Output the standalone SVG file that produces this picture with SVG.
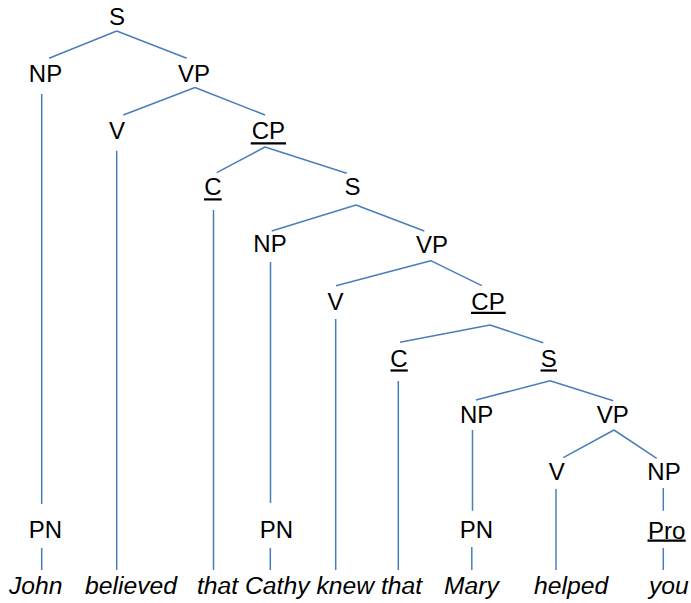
<svg xmlns="http://www.w3.org/2000/svg" width="691" height="603" viewBox="0 0 691 603">
<style>
.e{stroke:#4a7ebb;stroke-width:1.5;fill:none;stroke-linecap:butt}
.l{font-family:"Liberation Sans",Arial,sans-serif;font-size:24px;fill:#000;text-anchor:middle}
.w{font-family:"Liberation Sans",Arial,sans-serif;font-size:24.7px;font-style:italic;fill:#000}
.u{stroke:#000;stroke-width:2.2}
</style>
<rect width="691" height="603" fill="#fff"/>
<g id="connectors" class="e">
<path d="M116.7 31L49 58.3M116.7 31L186.7 58.3"/>
<path d="M41.7 94V504M41.7 548V570"/>
<path d="M195 87.5L123.3 115M195 87.5L265 115"/>
<path d="M116.7 150.7V570"/>
<path d="M265 147L216.7 172.7M265 147L346.7 173.3"/>
<path d="M213.5 210V570"/>
<path d="M356 205L271.7 231M356 205L424.3 231"/>
<path d="M270.5 262V503M270.3 548V570"/>
<path d="M430.7 260.7L336 285.7M430.7 260.7L481.7 285.7"/>
<path d="M335.7 319V570"/>
<path d="M490 325L400 342.3M490 325L543.3 342.7"/>
<path d="M398.3 381V570"/>
<path d="M550 380.7L476 400M550 380.7L613.3 400.7"/>
<path d="M472.5 430V510.7M471.8 547V570"/>
<path d="M614 430L563.3 457.7M614 430L656.7 458.3"/>
<path d="M556 489V570"/>
<path d="M663.3 488V510.7M663.3 548V570"/>
</g>
<g id="S1"><text class="l" x="117" y="25">S</text></g>
<g id="NP1"><text class="l" x="45.5" y="81.5">NP</text></g>
<g id="VP1"><text class="l" x="194" y="81.5">VP</text></g>
<g id="V1"><text class="l" x="117" y="139">V</text></g>
<g id="CP1"><text class="l" x="268.3" y="138.5">CP</text><line class="u" x1="250.7" y1="143.3" x2="286" y2="143.3"/></g>
<g id="C1"><text class="l" x="213" y="195">C</text><line class="u" x1="204" y1="199.4" x2="221.7" y2="199.4"/></g>
<g id="S2"><text class="l" x="352.5" y="195">S</text></g>
<g id="NP2"><text class="l" x="270" y="251.7">NP</text></g>
<g id="VP2"><text class="l" x="432" y="252.5">VP</text></g>
<g id="V2"><text class="l" x="335.5" y="309.5">V</text></g>
<g id="CP2"><text class="l" x="488" y="309.5">CP</text><line class="u" x1="471" y1="312.8" x2="505.7" y2="312.8"/></g>
<g id="C2"><text class="l" x="399" y="366.7">C</text><line class="u" x1="390.5" y1="370.5" x2="407.8" y2="370.5"/></g>
<g id="S3"><text class="l" x="548.7" y="366.7">S</text><line class="u" x1="540.5" y1="370.5" x2="557" y2="370.5"/></g>
<g id="NP3"><text class="l" x="476.7" y="423.3">NP</text></g>
<g id="VP3"><text class="l" x="612.8" y="423.3">VP</text></g>
<g id="V3"><text class="l" x="556.7" y="480">V</text></g>
<g id="NP4"><text class="l" x="664" y="480">NP</text></g>
<g id="PN1"><text class="l" x="45.5" y="538.3">PN</text></g>
<g id="PN2"><text class="l" x="276.5" y="538.3">PN</text></g>
<g id="PN3"><text class="l" x="476.3" y="538.3">PN</text></g>
<g id="Pro"><text class="l" x="666.7" y="538.8">Pro</text><line class="u" x1="647.5" y1="540.6" x2="685.7" y2="540.6"/></g>
<g id="words">
<text class="w" x="9" y="593.5">John</text>
<text class="w" x="85" y="593.5">believed</text>
<text class="w" x="197" y="593.5">that Cathy knew that</text>
<text class="w" x="444" y="593.5">Mary</text>
<text class="w" x="534" y="593.5">helped</text>
<text class="w" x="649" y="593.5">you</text>
</g>
</svg>
